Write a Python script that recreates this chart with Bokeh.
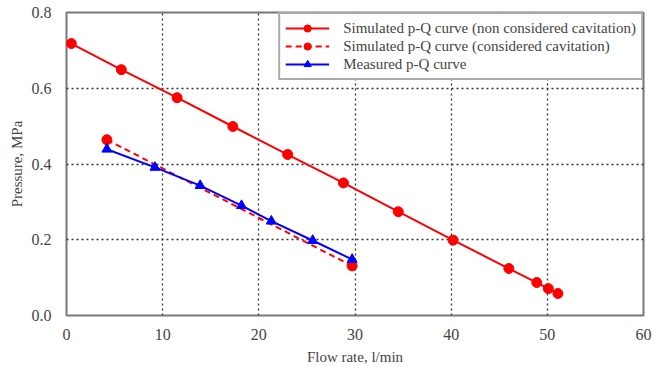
from bokeh.plotting import figure
from bokeh.models import Range1d, FixedTicker, PrintfTickFormatter, Legend, LegendItem
from bokeh.embed import file_html
from bokeh.resources import INLINE

# Data
q_sim_noncav = [0.5, 5.7, 11.5, 17.3, 23.0, 28.8, 34.5, 40.2, 46.0, 48.9, 50.1, 51.1]
p_sim_noncav = [0.718, 0.649, 0.575, 0.499, 0.425, 0.350, 0.274, 0.199, 0.124, 0.087, 0.071, 0.058]

q_sim_cav = [4.2, 29.7]
p_sim_cav = [0.464, 0.131]

q_meas = [4.2, 9.2, 13.9, 18.2, 21.3, 25.6, 29.7]
p_meas = [0.439, 0.391, 0.343, 0.290, 0.249, 0.198, 0.148]

x_ticks = [0, 10, 20, 30, 40, 50, 60]
y_ticks = [0.0, 0.2, 0.4, 0.6, 0.8]

labels = [
    "Simulated p-Q curve (non considered cavitation)",
    "Simulated p-Q curve (considered cavitation)",
    "Measured p-Q curve",
]

FONT = "Liberation Serif"
TXT = "#444444"

p = figure(width=664, height=367, output_backend="svg", toolbar_location=None,
           x_range=Range1d(0, 60), y_range=Range1d(0, 0.8),
           min_border_left=66, min_border_right=21, min_border_top=12, min_border_bottom=52)

p.outline_line_color = "#777777"
p.outline_line_width = 2
p.background_fill_color = "white"
p.border_fill_color = "white"

for ax in (p.xaxis, p.yaxis):
    ax.axis_line_color = None
    ax.major_tick_line_color = None
    ax.minor_tick_line_color = None
    ax.major_label_text_font = FONT
    ax.major_label_text_font_size = "16px"
    ax.major_label_text_color = TXT
    ax.axis_label_text_font = FONT
    ax.axis_label_text_font_size = "15px"
    ax.axis_label_text_font_style = "normal"
    ax.axis_label_text_color = TXT

p.xaxis.ticker = FixedTicker(ticks=x_ticks)
p.yaxis.ticker = FixedTicker(ticks=y_ticks)
p.yaxis.formatter = PrintfTickFormatter(format="%.1f")
p.xaxis.axis_label = "Flow rate, l/min"
p.yaxis.axis_label = "Pressure, MPa"
p.xaxis.major_label_standoff = 7
p.yaxis.major_label_standoff = 9
p.xaxis.axis_label_standoff = 6
p.yaxis.axis_label_standoff = 4

for g in (p.xgrid, p.ygrid):
    g.grid_line_color = "#333333"
    g.grid_line_dash = "2 3"
    g.grid_line_width = 1.3

r1l = p.line(q_sim_noncav, p_sim_noncav, line_color="#ff0000", line_width=2)
r1m = p.scatter(q_sim_noncav, p_sim_noncav, marker="circle", size=10, fill_color="#ff0000", line_color="#ff0000")

r2l = p.line(q_sim_cav, p_sim_cav, line_color="#ff0000", line_width=2, line_dash="6 4")
r2m = p.scatter(q_sim_cav, p_sim_cav, marker="circle", size=10, fill_color="#ff0000", line_color="#ff0000")

r3l = p.line(q_meas, p_meas, line_color="#0000ff", line_width=2)
r3m = p.scatter(q_meas, p_meas, marker="triangle", size=10, fill_color="#0000ff", line_color="#0000ff")

legend = Legend(items=[
    LegendItem(label=labels[0], renderers=[r1l, r1m]),
    LegendItem(label=labels[1], renderers=[r2l, r2m]),
    LegendItem(label=labels[2], renderers=[r3l, r3m]),
], location="top_right")
legend.margin = 0
legend.padding = 5
legend.spacing = 0
legend.label_height = 18
legend.glyph_height = 18
legend.glyph_width = 44
legend.label_standoff = 14
legend.label_text_font = FONT
legend.label_text_font_size = "15px"
legend.label_text_color = TXT
legend.border_line_color = "#555555"
legend.border_line_width = 2
legend.background_fill_alpha = 1.0
p.add_layout(legend)

open("out.html", "w").write(file_html(p, INLINE))
